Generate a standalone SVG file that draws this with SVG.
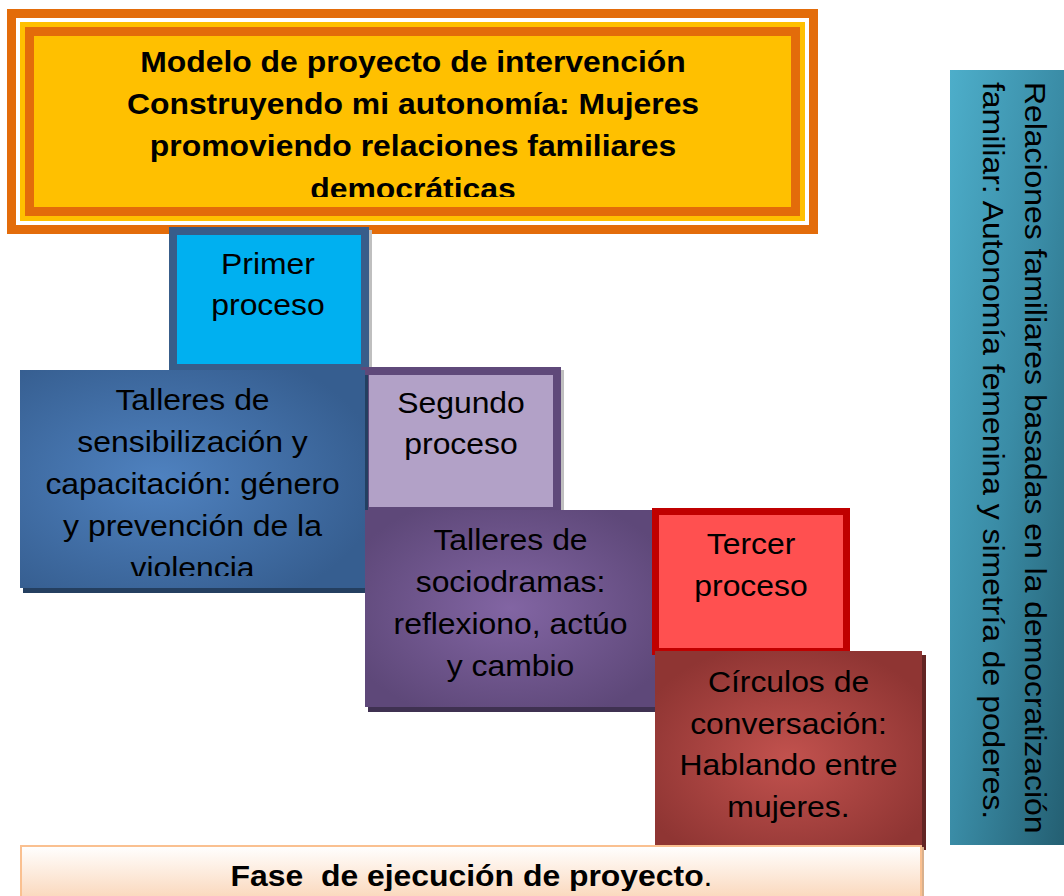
<svg xmlns="http://www.w3.org/2000/svg" width="1064" height="896" viewBox="0 0 1064 896">
<style>
.t{font-family:"Liberation Sans",Arial,sans-serif;font-size:29px;fill:#000;text-anchor:middle}
.b{font-weight:bold}
.v{font-family:"Liberation Sans",Arial,sans-serif;font-size:29px;fill:#000}
</style>
<defs>
<radialGradient id="gBlue" cx="0.4" cy="0.5" r="0.65">
<stop offset="0" stop-color="#4F82C0"/><stop offset="1" stop-color="#365E90"/>
</radialGradient>
<radialGradient id="gPurple" cx="0.5" cy="0.5" r="0.6">
<stop offset="0" stop-color="#8265A3"/><stop offset="1" stop-color="#5E4879"/>
</radialGradient>
<radialGradient id="gRed" cx="0.5" cy="0.55" r="0.6">
<stop offset="0" stop-color="#C2524E"/><stop offset="1" stop-color="#8F3533"/>
</radialGradient>
<linearGradient id="gTeal" x1="0" y1="0" x2="1" y2="1">
<stop offset="0" stop-color="#4DAECA"/><stop offset="0.5" stop-color="#3A8CA6"/><stop offset="1" stop-color="#245F72"/>
</linearGradient>
<linearGradient id="gPeach" x1="0" y1="0" x2="0" y2="1">
<stop offset="0" stop-color="#FFFFFF"/><stop offset="1" stop-color="#FAD2B2"/>
</linearGradient>
<clipPath id="cTitle"><rect x="34" y="36" width="757" height="161"/></clipPath>
<clipPath id="cBlue"><rect x="20" y="370" width="345" height="206"/></clipPath>
<clipPath id="cFase"><rect x="20" y="845" width="902" height="46"/></clipPath>
</defs>

<g id="title">
<rect x="7" y="9" width="811" height="225" fill="#E36C0A"/>
<rect x="16" y="18" width="793" height="207" fill="#FFFFFF"/>
<rect x="20" y="22" width="785" height="199" fill="#FFC000"/>
<rect x="25" y="27" width="775" height="189" fill="#E36C0A"/>
<rect x="34" y="36" width="757" height="171" fill="#FFC000"/>
<g clip-path="url(#cTitle)">
<g transform="translate(413 0) scale(1.1 1)">
<text class="t b" x="0" y="72">Modelo de proyecto de intervención</text>
<text class="t b" x="0" y="114">Construyendo mi autonomía: Mujeres</text>
<text class="t b" x="0" y="156">promoviendo relaciones familiares</text>
<text class="t b" x="0" y="199">democráticas</text>
</g>
</g>
</g>

<g id="primer">
<rect x="369" y="230" width="3" height="140" fill="#BFBFBF"/>
<rect x="173" y="231" width="192" height="137" fill="#00B0F0" stroke="#385D8A" stroke-width="8"/>
<g transform="translate(268 0) scale(1.1 1)">
<text class="t" x="0" y="274">Primer</text>
<text class="t" x="0" y="315">proceso</text>
</g>
</g>

<g id="segundo">
<rect x="561" y="370" width="3" height="140" fill="#BFBFBF"/>
<rect x="365" y="371" width="192" height="140" fill="#B2A1C7" stroke="#5F497A" stroke-width="8"/>
<g transform="translate(461 0) scale(1.1 1)">
<text class="t" x="0" y="413">Segundo</text>
<text class="t" x="0" y="454">proceso</text>
</g>
</g>

<g id="taller1">
<rect x="23" y="375" width="345" height="218" fill="#243F60"/>
<rect x="20" y="370" width="345" height="218" fill="url(#gBlue)"/>
<g clip-path="url(#cBlue)">
<g transform="translate(192.5 0) scale(1.1 1)">
<text class="t" x="0" y="410">Talleres de</text>
<text class="t" x="0" y="452">sensibilización y</text>
<text class="t" x="0" y="494">capacitación: género</text>
<text class="t" x="0" y="536">y prevención de la</text>
<text class="t" x="0" y="578">violencia</text>
</g>
</g>
</g>

<g id="taller2">
<rect x="368" y="515" width="291" height="197" fill="#3F3151"/>
<rect x="365" y="510" width="291" height="197" fill="url(#gPurple)"/>
<g transform="translate(510.5 0) scale(1.1 1)">
<text class="t" x="0" y="550">Talleres de</text>
<text class="t" x="0" y="592">sociodramas:</text>
<text class="t" x="0" y="634">reflexiono, actúo</text>
<text class="t" x="0" y="676">y cambio</text>
</g>
</g>

<g id="tercer">
<rect x="655.5" y="511.5" width="191" height="140" fill="#FF5050" stroke="#C00000" stroke-width="7"/>
<g transform="translate(751 0) scale(1.1 1)">
<text class="t" x="0" y="554">Tercer</text>
<text class="t" x="0" y="596">proceso</text>
</g>
</g>

<g id="circulos">
<rect x="659" y="655" width="267" height="195" fill="#632523"/>
<rect x="655" y="651" width="267" height="195" fill="url(#gRed)"/>
<g transform="translate(788.5 0) scale(1.1 1)">
<text class="t" x="0" y="692">Círculos de</text>
<text class="t" x="0" y="734">conversación:</text>
<text class="t" x="0" y="775">Hablando entre</text>
<text class="t" x="0" y="817">mujeres.</text>
</g>
</g>

<g id="fase">
<rect x="921" y="847" width="3" height="49" fill="#D9B08C"/>
<rect x="21" y="846" width="900" height="60" fill="url(#gPeach)" stroke="#FAC090" stroke-width="2"/>
<g clip-path="url(#cFase)">
<g transform="translate(471.5 0) scale(1.1 1)">
<text class="t b" x="0" y="886" xml:space="preserve" style="white-space:pre">Fase  de ejecución de proyecto<tspan font-weight="normal">.</tspan></text>
</g>
</g>
</g>

<g id="relaciones">
<rect x="950" y="70" width="114" height="775" fill="url(#gTeal)"/>
<g transform="translate(1025 82) rotate(90) scale(1.1 1)">
<text class="v" x="0" y="0">Relaciones familiares basadas en la democratización</text>
<text class="v" x="0" y="42">familiar: Autonomía femenina y simetría de poderes.</text>
</g>
</g>

<g id="connectors"/>
</svg>
